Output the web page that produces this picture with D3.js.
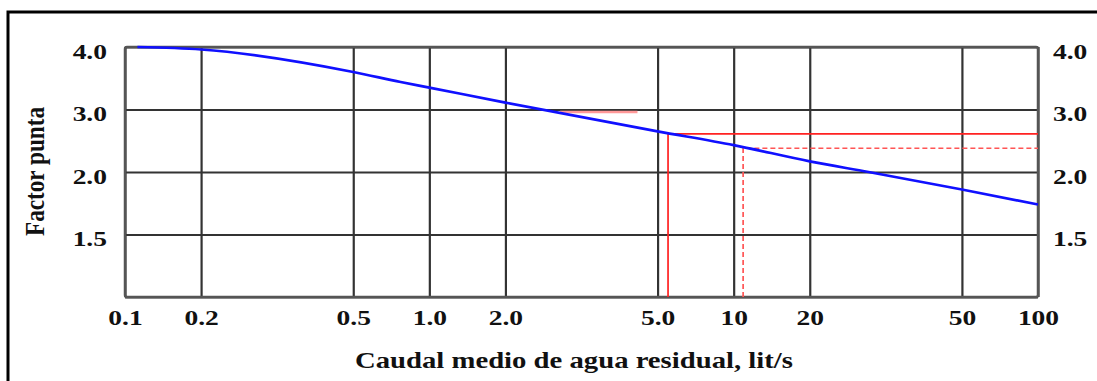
<!DOCTYPE html>
<html>
<head>
<meta charset="utf-8">
<script src="https://cdn.jsdelivr.net/npm/d3@7"></script>
<style>
  body { margin: 0; background: #fff; }
  text { font-family: "Liberation Serif", "Times New Roman", serif; font-weight: bold; fill: #111; }
</style>
</head>
<body>
<div id="chart"></div>
<script>
// Axis ticks (the chart uses a 1-2-5 stepped grid, not a true log grid)
const xTicks = [0.1, 0.2, 0.5, 1, 2, 5, 10, 20, 50, 100];
const xTickSlots = [0, 1, 3, 4, 5, 7, 8, 9, 11, 12];
const xTickLabels = ["0.1", "0.2", "0.5", "1.0", "2.0", "5.0", "10", "20", "50", "100"];
const yTicks = [1.0, 1.5, 2.0, 3.0, 4.0];
const yTickLabels = ["", "1.5", "2.0", "3.0", "4.0"];

// Peak factor curve
const flow =   [0.112, 0.2,  0.5,  0.77, 1.0,  2.0,  5.0,  10,   20,   28.5, 50,   100];
const factor = [4.0,   3.96, 3.60, 3.44, 3.35, 3.11, 2.65, 2.43, 2.17, 2.0,  1.86, 1.74];

// Reading guides (red)
const guideSolid = { q: 5.5, f: 2.61 };
const guideDashed = { q: 10.9, f: 2.38 };
const guideFaint = { q0: 2.78, q1: 4.43, f: 2.96 };

const W = 1097, H = 381;
const margin = { left: 125, right: 59, top: 47, bottom: 84 };
const plotW = W - margin.left - margin.right;
const plotH = H - margin.top - margin.bottom;

const slot = d3.scaleLinear().domain([0, 12]).range([0, plotW]);
const x = d3.scaleLog().domain(xTicks).range(xTickSlots.map(slot));
const y = d3.scaleLinear().domain(yTicks).range(yTicks.map((d, i) => plotH - i * plotH / 4));

const svg = d3.select("#chart").append("svg")
    .attr("width", W)
    .attr("height", H);

svg.append("rect").attr("width", W).attr("height", H).attr("fill", "#fff");

// outer frame (only left and top edges are visible)
svg.append("path")
    .attr("d", `M8,${H + 5}V12H${W + 5}`)
    .attr("fill", "none")
    .attr("stroke", "#000")
    .attr("stroke-width", 3);

const g = svg.append("g").attr("transform", `translate(${margin.left},${margin.top})`);

const stretch = 1.25;
const tickFont = 22;

// x grid + labels
const xAxis = g.append("g")
    .attr("transform", `translate(0,${plotH})`)
    .call(d3.axisBottom(x).tickValues(xTicks)
        .tickFormat((d, i) => xTickLabels[i])
        .tickSize(-plotH).tickPadding(12));
xAxis.select(".domain").remove();
xAxis.selectAll("line").attr("stroke", "#333").attr("stroke-width", 2.2);
xAxis.selectAll("text")
    .attr("font-size", tickFont)
    .attr("transform", `scale(${stretch},1)`);

// y grid + left labels
const yAxis = g.append("g")
    .call(d3.axisLeft(y).tickValues(yTicks)
        .tickFormat((d, i) => yTickLabels[i])
        .tickSize(-plotW));
yAxis.select(".domain").remove();
yAxis.selectAll("line").attr("stroke", "#333").attr("stroke-width", 2.2);
yAxis.selectAll("text")
    .attr("font-size", tickFont)
    .attr("x", 0)
    .attr("dy", "0.5em")
    .attr("transform", `translate(-18,0) scale(${stretch},1)`);

// right labels
const yAxisR = g.append("g")
    .attr("transform", `translate(${plotW},0)`)
    .call(d3.axisRight(y).tickValues(yTicks)
        .tickFormat((d, i) => yTickLabels[i])
        .tickSize(0));
yAxisR.select(".domain").remove();
yAxisR.selectAll("text")
    .attr("font-size", tickFont)
    .attr("x", 0)
    .attr("dy", "0.5em")
    .attr("transform", `translate(15,0) scale(${stretch},1)`);

// plot frame
g.append("rect")
    .attr("width", plotW)
    .attr("height", plotH)
    .attr("fill", "none")
    .attr("stroke", "#555")
    .attr("stroke-width", 2.5)
    .attr("rx", 2);

// faint red guide near 3.0
g.append("line")
    .attr("x1", x(guideFaint.q0)).attr("x2", x(guideFaint.q1))
    .attr("y1", y(guideFaint.f)).attr("y2", y(guideFaint.f))
    .attr("stroke", "#f99").attr("stroke-width", 2.5);

// red solid guide
g.append("path")
    .attr("d", `M${x(guideSolid.q)},${plotH}V${y(guideSolid.f)}H${plotW}`)
    .attr("fill", "none")
    .attr("stroke", "#f22")
    .attr("stroke-width", 1.7);

// red dashed guide
g.append("path")
    .attr("d", `M${x(guideDashed.q)},${plotH}V${y(guideDashed.f)}H${plotW}`)
    .attr("fill", "none")
    .attr("stroke", "#f55")
    .attr("stroke-width", 1.7)
    .attr("stroke-dasharray", "5,3");

// curve
const line = d3.line()
    .x(d => x(d[0]))
    .y(d => y(d[1]))
    .curve(d3.curveMonotoneX);

g.append("path")
    .datum(flow.map((q, i) => [q, factor[i]]))
    .attr("d", line)
    .attr("fill", "none")
    .attr("stroke", "#1010ff")
    .attr("stroke-width", 2.6);

// axis titles
svg.append("text")
    .attr("x", 355)
    .attr("y", 368)
    .attr("font-size", 23)
    .attr("textLength", 438)
    .attr("lengthAdjust", "spacingAndGlyphs")
    .text("Caudal medio de agua residual, lit/s");

svg.append("text")
    .attr("transform", "translate(44,236) scale(1.15,1) rotate(-90)")
    .attr("font-size", 23)
    .attr("textLength", 129)
    .attr("lengthAdjust", "spacingAndGlyphs")
    .text("Factor punta");
</script>
</body>
</html>
